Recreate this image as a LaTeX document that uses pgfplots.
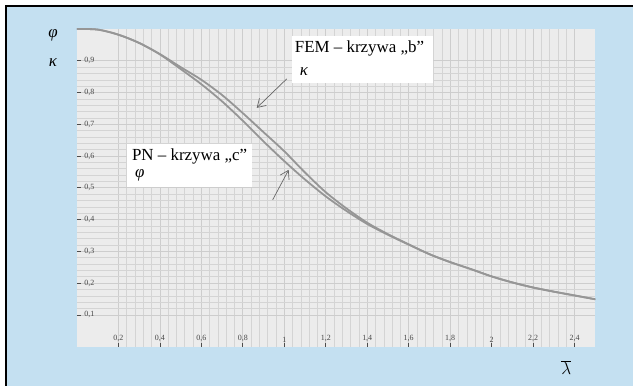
\documentclass[border=0pt]{standalone}
\usepackage{fontspec}
\setmainfont{Liberation Serif}
\usepackage{pgfplots}
\pgfplotsset{compat=1.18}
\usetikzlibrary{arrows.meta}
\definecolor{bgblue}{RGB}{196,224,241}
\definecolor{plotbg}{RGB}{236,236,236}
\definecolor{gridc}{RGB}{205,205,205}
\definecolor{curvec}{RGB}{150,150,150}
\pgfplotstableread{
x kappa phi
0.0 1.000 1.000
0.1 0.998 0.998
0.2 0.982 0.982
0.3 0.956 0.956
0.4 0.921 0.920
0.5 0.880 0.874
0.6 0.840 0.826
0.7 0.792 0.772
0.8 0.735 0.711
0.9 0.675 0.646
1.0 0.615 0.584
1.1 0.548 0.526
1.2 0.486 0.473
1.3 0.435 0.427
1.4 0.390 0.386
1.5 0.354 0.352
1.6 0.322 0.321
1.7 0.291 0.291
1.8 0.266 0.266
1.9 0.244 0.244
2.0 0.221 0.221
2.1 0.202 0.202
2.2 0.186 0.186
2.3 0.173 0.173
2.4 0.161 0.161
2.5 0.149 0.149
}\curves
\begin{document}
\begin{tikzpicture}
\fill[white] (0bp,0bp) rectangle (634bp,386bp);
\fill[bgblue] (6bp,0bp) rectangle (634bp,380bp);
\draw[black, line width=1.4bp] (6bp,0bp) -- (6bp,380bp) -- (634bp,380bp);
\begin{axis}[
  at={(77bp,39bp)}, anchor=south west,
  scale only axis, width=519bp, height=318bp,
  xmin=0, xmax=2.5, ymin=0, ymax=1,
  axis background/.style={fill=plotbg},
  axis line style={draw=none},
  xtick={0.2,0.4,...,2.41}, ytick={0.1,0.2,...,0.91},
  minor x tick num=4, minor y tick num=4,
  grid=both,
  major grid style={gridc, line width=0.7bp},
  minor grid style={gridc!85!white, line width=0.5bp},
  tick pos=left, tick align=inside,
  major tick length=4bp, minor tick length=0pt,
  major tick style={gray!60!black, line width=0.7bp},
  /pgf/number format/.cd, use comma, fixed, assume math mode=true,
  /pgfplots/.cd,
  tick label style={font=\fontsize{8}{9}\selectfont, text=gray!55!black},
  yticklabel style={anchor=west, xshift=4bp},
  xticklabel style={anchor=south, yshift=1bp},
]
\addplot[curvec, line width=1.8bp, smooth] table[x=x, y=kappa] {\curves};
\addplot[curvec, line width=1.8bp, smooth] table[x=x, y=phi] {\curves};
\end{axis}
% labels
\node[font=\fontsize{17}{20}\selectfont\itshape] at (53bp,351bp) {φ};
\node[font=\fontsize{17}{20}\selectfont\itshape] at (53bp,323bp) {κ};
\node[font=\fontsize{17}{20}\selectfont] at (567bp,18bp) {$\overline{\lambda}$};
% FEM box
\fill[white] (292bp,303bp) rectangle (433bp,350bp);
\node[anchor=west, inner sep=0pt, font=\fontsize{17}{20}\selectfont] at (295bp,337bp) {FEM – krzywa „b”};
\node[anchor=west, inner sep=0pt, font=\fontsize{17}{20}\selectfont\itshape] at (300bp,314bp) {κ};
% PN box
\fill[white] (127bp,199bp) rectangle (252bp,242bp);
\node[anchor=west, inner sep=0pt, font=\fontsize{17}{20}\selectfont] at (132bp,229bp) {PN – krzywa „c”};
\node[anchor=west, inner sep=0pt, font=\fontsize{17}{20}\selectfont\itshape] at (135bp,210bp) {φ};
% arrows
\draw[gray!80!black, line width=0.7bp, -{Straight Barb[length=8bp,width=10bp]}] (287bp,307bp) -- (257bp,278bp);
\draw[gray!80!black, line width=0.7bp, -{Straight Barb[length=8bp,width=10bp]}] (273bp,186bp) -- (289bp,216bp);
\end{tikzpicture}
\end{document}
